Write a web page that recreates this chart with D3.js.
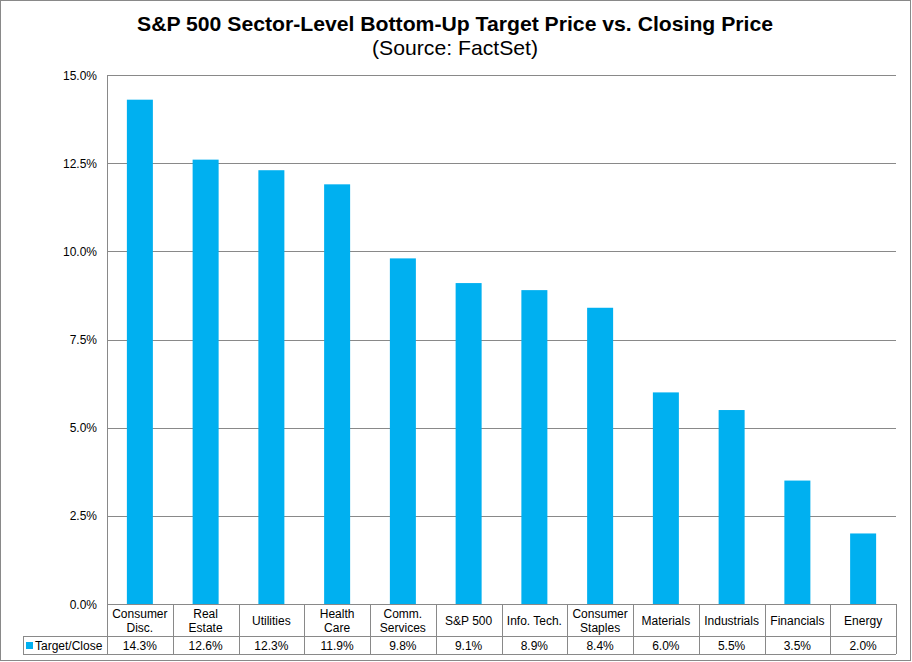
<!DOCTYPE html>
<html><head><meta charset="utf-8">
<script src="https://cdn.jsdelivr.net/npm/d3@7"></script>
<style>body{margin:0;background:#fff}svg{display:block;font-family:"Liberation Sans",Arial,sans-serif}</style>
</head><body><svg id="c" width="912" height="662"></svg>
<script>
const categories = [["Consumer","Disc."],["Real","Estate"],["Utilities"],["Health","Care"],["Comm.","Services"],["S&P 500"],["Info. Tech."],["Consumer","Staples"],["Materials"],["Industrials"],["Financials"],["Energy"]];
const values = [14.3,12.6,12.3,11.9,9.8,9.1,8.9,8.4,6.0,5.5,3.5,2.0];
const yTicks = [0,2.5,5,7.5,10,12.5,15];
const seriesName = "Target/Close";
const title = "S&P 500 Sector-Level Bottom-Up Target Price vs. Closing Price";
const subtitle = "(Source: FactSet)";

const svg = d3.select("#c");
const grey = "#898989", barColor = "#00B0F0";
const L = 107, R = 896, T = 75, B = 604;
const row1 = 636, row2 = 654, legL = 23;

svg.append("rect").attr("x",0.5).attr("y",0.5).attr("width",910).attr("height",660)
  .attr("fill","#fff").attr("stroke",grey).attr("stroke-width",1);

svg.append("text").attr("x",455).attr("y",31).attr("text-anchor","middle")
  .attr("font-size",21).attr("font-weight","bold")
  .attr("textLength",636).attr("lengthAdjust","spacingAndGlyphs").text(title);
svg.append("text").attr("x",455).attr("y",55).attr("text-anchor","middle")
  .attr("font-size",21).attr("textLength",166).attr("lengthAdjust","spacingAndGlyphs").text(subtitle);

const x = d3.scaleBand().domain(d3.range(categories.length)).range([L,R]).paddingInner(0).paddingOuter(0);
const y = d3.scaleLinear().domain([0,15]).range([B,T]);

// gridlines
svg.append("g").selectAll("line").data(yTicks).join("line")
  .attr("x1",L).attr("x2",R).attr("y1",d=>Math.round(y(d))+0.5).attr("y2",d=>Math.round(y(d))+0.5)
  .attr("stroke",grey).attr("stroke-width",1);
// y axis line
svg.append("line").attr("x1",L+0.5).attr("x2",L+0.5).attr("y1",T).attr("y2",row2)
  .attr("stroke",grey);
// y labels
svg.append("g").selectAll("text").data(yTicks).join("text")
  .attr("x",97).attr("y",d=>y(d)+4.5).attr("text-anchor","end").attr("font-size",12)
  .text(d=>d3.format(".1f")(d)+"%");

// bars
const bw = 26;
svg.append("g").selectAll("rect").data(values).join("rect")
  .attr("x",(d,i)=>x(i)+x.bandwidth()/2-bw/2).attr("width",bw)
  .attr("y",d=>y(d)).attr("height",d=>B-y(d)).attr("fill",barColor);

// table
const tg = svg.append("g");
tg.append("line").attr("x1",legL).attr("x2",R).attr("y1",row1+0.5).attr("y2",row1+0.5).attr("stroke",grey);
tg.append("line").attr("x1",legL).attr("x2",R).attr("y1",row2+0.5).attr("y2",row2+0.5).attr("stroke",grey);
tg.append("line").attr("x1",legL+0.5).attr("x2",legL+0.5).attr("y1",row1).attr("y2",row2).attr("stroke",grey);
tg.selectAll("line.v").data(d3.range(categories.length+1)).join("line").attr("class","v")
  .attr("x1",i=>Math.round(i<categories.length?x(i):R)+0.5).attr("x2",i=>Math.round(i<categories.length?x(i):R)+0.5)
  .attr("y1",B).attr("y2",row2).attr("stroke",grey);

// category labels
categories.forEach((c,i)=>{
  const cx = x(i)+x.bandwidth()/2;
  const t = tg.append("text").attr("text-anchor","middle").attr("font-size",12);
  if(c.length===1){
    t.append("tspan").attr("x",cx).attr("y",624.5).text(c[0]);
  } else {
    t.append("tspan").attr("x",cx).attr("y",617.5).text(c[0]);
    t.append("tspan").attr("x",cx).attr("y",631.5).text(c[1]);
  }
});
// values
tg.selectAll("text.val").data(values).join("text").attr("class","val")
  .attr("x",(d,i)=>x(i)+x.bandwidth()/2).attr("y",649.5).attr("text-anchor","middle").attr("font-size",12)
  .text(d=>d3.format(".1f")(d)+"%");
// legend
tg.append("rect").attr("x",26).attr("y",642).attr("width",7).attr("height",7).attr("fill",barColor);
tg.append("text").attr("x",35).attr("y",649.5).attr("font-size",12).text(seriesName);
</script></body></html>
